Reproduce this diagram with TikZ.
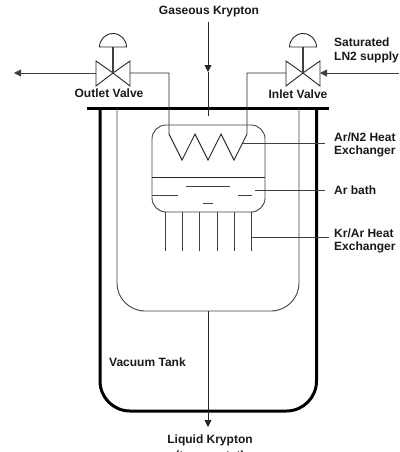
\documentclass[tikz,border=0pt]{standalone}
\usepackage{fontspec}
\setmainfont{Liberation Sans}
\usetikzlibrary{arrows.meta}
\tikzset{
 thin line/.style={draw=black!75,line width=0.9pt},
 dark line/.style={draw=black!85,line width=0.9pt},
 heavy line/.style={draw=black,line width=3pt},
 tip/.style={-{Triangle[length=7pt,width=7pt]}},
 lbl/.style={inner sep=0pt,font=\fontsize{12}{13}\selectfont\bfseries,text=black!90},
 llbl/.style={lbl,anchor=west},
 ref/.style={inner sep=0pt,outer sep=0pt,minimum size=0pt}
}
\begin{document}
\begin{tikzpicture}[x=1pt,y=-1pt]
\useasboundingbox (0,0) rectangle (399,452);
\clip (0,0) rectangle (399,452);
% tank
\draw[heavy line,rounded corners=30pt] (100,108) -- (100,411) -- (316.5,411) -- (316.5,108);
\draw[heavy line] (87,108) -- (329,108);
% inner vessel
\draw[thin line,rounded corners=28pt] (117,108) -- (117,311) -- (299,311) -- (299,108);
% heat exchanger box
\node[ref,draw=black!75,line width=0.9pt,rounded corners=14pt,minimum width=113pt,minimum height=87pt] (hx) at (208.5,168.5) {};
\coordinate (divL) at (152,177); \coordinate (divR) at (265,177);
\draw[dark line] (divL) -- (divR);
\draw[thin line] (152,195) -- (178,195);
\draw[thin line] (186,186) -- (230,186);
\draw[thin line] (238,195) -- (252,195);
\draw[thin line] (203,203) -- (213,203);
% tubes
\foreach \x in {165,182,199,217,234,251}
  \draw[thin line] (\x,212) -- (\x,251);
% valves
\foreach \vname/\cx in {outv/113,inv/303}{
  \coordinate (\vname) at (\cx,73);
  \coordinate (\vname-L) at (\cx-17,73);
  \coordinate (\vname-R) at (\cx+17,73);
  \draw[dark line,line join=miter] (\cx,73) -- (\cx-17,61) -- (\cx-17,86) -- cycle;
  \draw[dark line,line join=miter] (\cx,73) -- (\cx+17,61) -- (\cx+17,86) -- cycle;
  \draw[thin line,line width=1.2pt] (\cx,73) -- (\cx,47);
  \draw[dark line] (\cx-13.5,47) arc[start angle=180,end angle=360,radius=13.5] -- cycle;
}
% piping and coil
\coordinate (outEnd) at (14,73);
\coordinate (inStart) at (399,73);
\draw[thin line,tip] (outv-L) -- (outEnd);
\draw[thin line,tip] (inStart) -- (inv-R);
\draw[dark line,line join=miter] (outv-R) -- (169,73) -- (169,134) -- (182,160) -- (195,134) -- (208,160) -- (221,134) -- (234,160) -- (247,134) -- (247,73) -- (inv-L);
% krypton line
\coordinate (gTop) at (208,22); \coordinate (gMid) at (208,72); \coordinate (gEnd) at (208,116);
\draw[dark line,tip] (gTop) -- (gMid);
\draw[dark line] (gMid) -- (gEnd);
\coordinate (lTop) at (208,311); \coordinate (lEnd) at (208,427);
\draw[dark line,tip] (lTop) -- (lEnd);
% labels
\node[lbl] (t1) at (209,12) {Gaseous Krypton};
\node[lbl] (t2) at (109,93.5) {Outlet Valve};
\node[lbl] (t3) at (298,94) {Inlet Valve};
\node[llbl] (t4) at (334,42.5) {Saturated};
\node[llbl] (t5) at (334,57) {LN2 supply};
\node[llbl] (t6) at (334,137) {Ar/N2 Heat};
\node[llbl] (t7) at (334,151) {Exchanger};
\node[llbl] (t8) at (334,190) {Ar bath};
\node[llbl] (t9) at (334,233) {Kr/Ar Heat};
\node[llbl] (t10) at (334,247) {Exchanger};
\node[llbl] (t11) at (109,362) {Vacuum Tank};
\node[lbl] (t12) at (210,440) {Liquid Krypton};
\node[lbl] (t13) at (210,456) {(to cryostat)};
% leaders
\coordinate (l1a) at (243,143); \coordinate (l1b) at (325,143);
\coordinate (l2a) at (255,190); \coordinate (l2b) at (325,190);
\coordinate (l3a) at (251,237); \coordinate (l3b) at (329,237);
\draw[thin line] (l1a) -- (l1b);
\draw[thin line] (l2a) -- (l2b);
\draw[thin line] (l3a) -- (l3b);
\end{tikzpicture}
\end{document}
